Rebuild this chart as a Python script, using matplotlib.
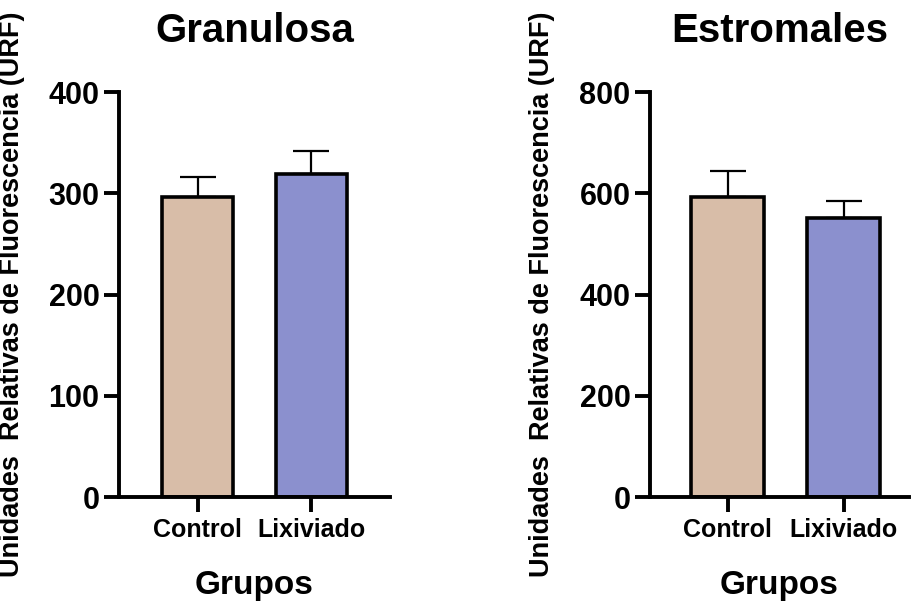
import matplotlib
matplotlib.use("Agg")
import matplotlib.pyplot as plt

# Datos
grupos = ["Control", "Lixiviado"]
granulosa_media = [297, 319]
granulosa_error = [19, 23]
estromales_media = [593, 552]
estromales_error = [52, 33]

colores = ["#D8BDA8", "#8B90CE"]

plt.rcParams["font.family"] = ["Liberation Sans", "DejaVu Sans"]
plt.rcParams["font.weight"] = "bold"

fig = plt.figure(figsize=(9.11, 6.07), dpi=100)
ax1 = fig.add_axes([0.1306, 0.181, 0.2975, 0.667])
ax2 = fig.add_axes([0.7135, 0.181, 0.284, 0.667])


def dibujar(ax, medias, errores, titulo, ymax, xlim, ylabel_x):
    x = list(range(len(grupos)))
    ax.bar(x, medias, width=0.63, color=colores, edgecolor="black",
           linewidth=2.6, zorder=2)
    ax.errorbar(x, medias, yerr=[[0] * len(errores), errores], fmt="none",
                ecolor="black", elinewidth=1.6, capsize=13, capthick=1.6,
                zorder=1)
    ax.set_ylim(0, ymax)
    ax.set_xlim(*xlim)
    ax.set_yticks([ymax / 4 * i for i in range(5)])
    ax.set_xticks(x)
    ax.set_xticklabels(grupos, fontsize=18, fontweight="bold")
    for lab in ax.get_yticklabels():
        lab.set_fontsize(22)
        lab.set_fontweight("bold")
    ax.spines["top"].set_visible(False)
    ax.spines["right"].set_visible(False)
    ax.spines["left"].set_linewidth(2.8)
    ax.spines["bottom"].set_linewidth(2.8)
    ax.tick_params(axis="y", length=11, width=2.8, pad=3)
    ax.tick_params(axis="x", length=11, width=2.8, pad=4)
    ax.set_title(titulo, fontsize=29, fontweight="bold", pad=36)
    ax.set_xlabel("Grupos", fontsize=24, fontweight="bold")
    ax.xaxis.set_label_coords(0.5, -0.18)
    ax.set_ylabel("Unidades  Relativas de Fluorescencia (URF)", fontsize=19.5,
                  fontweight="bold")
    ax.yaxis.set_label_coords(ylabel_x, 0.5)


dibujar(ax1, granulosa_media, granulosa_error, "Granulosa", 400,
        (-0.69, 1.69), -0.347)
dibujar(ax2, estromales_media, estromales_error, "Estromales", 800,
        (-0.67, 1.56), -0.368)

fig.savefig("out.png", dpi=100)
